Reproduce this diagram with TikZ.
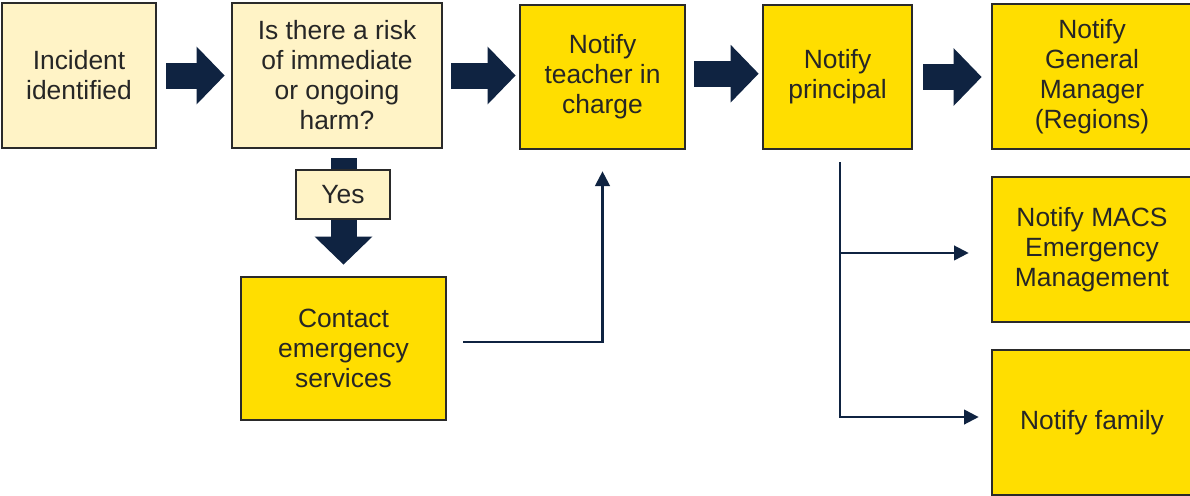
\documentclass[tikz,border=0pt]{standalone}
\usepackage{fontspec}
\setmainfont{Liberation Sans}
\usetikzlibrary{arrows.meta}
\definecolor{pale}{HTML}{FFF3C6}
\definecolor{gold}{HTML}{FFDE00}
\definecolor{navy}{HTML}{0F2341}
\definecolor{ink}{HTML}{262626}
\definecolor{edge}{HTML}{2A2A2A}
\begin{document}
\begin{tikzpicture}[x=0.75pt,y=-0.75pt,
  box/.style={draw=edge, line width=2pt, rectangle, inner sep=0pt, align=center,
    text=ink, font=\fontsize{19.8pt}{22.5pt}\selectfont},
  palebox/.style={box, fill=pale},
  goldbox/.style={box, fill=gold},
  blockarrow/.style={draw=navy, line width=19.5pt, -{Triangle[length=21pt,width=42pt]}},
  thinarrow/.style={draw=navy, line width=1.6pt, -{Triangle[length=11pt,width=11pt]}}]
\useasboundingbox (0,0) rectangle (1190,496);
\node[palebox, minimum width=115.5pt, minimum height=108.75pt] (b1) at (79,75.5) {Incident\\identified};
\node[palebox, minimum width=157.5pt, minimum height=108.75pt] (b2) at (337,75.5) {Is there a risk\\of immediate\\or ongoing\\harm?};
\node[goldbox, minimum width=123.75pt, minimum height=108pt] (b3) at (602.5,77) {Notify\\teacher in\\charge};
\node[goldbox, minimum width=111.75pt, minimum height=108pt] (b4) at (837.5,77) {Notify\\principal};
\node[goldbox, minimum width=150pt, minimum height=108.75pt] (b5) at (1092,76.5) {Notify\\General\\Manager\\(Regions)};
\node[goldbox, minimum width=150pt, minimum height=108.75pt] (b6) at (1092,249.5) {Notify MACS\\Emergency\\Management};
\node[goldbox, minimum width=150pt, minimum height=108.75pt] (b7) at (1092,422.5) {Notify family};
\node[goldbox, minimum width=153.75pt, minimum height=107.25pt] (b8) at (343.5,348.5) {Contact\\emergency\\services};
% block arrows
\draw[blockarrow, shorten <=6.75pt, shorten >=4.5pt] (b1.east) -- (b1.east -| b2.west);
\draw[blockarrow, shorten <=6pt, shorten >=2.25pt] (b2.east) -- (b2.east -| b3.west);
\draw[blockarrow, shorten <=6pt, shorten >=2.25pt] ([yshift=2.5pt]b3.east) -- ([yshift=2.5pt]b4.west);
\draw[blockarrow, shorten <=7.5pt, shorten >=6.75pt] (b4.east) -- (b4.east -| b5.west);
\coordinate (dx) at (343.5,0);
\draw[blockarrow, shorten <=6.75pt, shorten >=8.25pt] (dx |- b2.south) -- (b8.north);
\node[palebox, minimum width=70.5pt, minimum height=36.75pt] (yes) at (343,194.5) {Yes};
% thin connectors
\draw[thinarrow, shorten <=12pt, shorten >=15.75pt] ([yshift=4.9pt]b8.east) -| (b3.south);
\coordinate (px) at (840,0);
\draw[thinarrow, shorten <=9pt, shorten >=9pt] (px |- b4.south) -- ([yshift=4.1pt]px |- b7.west) -- ([yshift=4.1pt]b7.west);
\draw[thinarrow, shorten >=16.5pt] ([yshift=-2.6pt]px |- b6.west) -- ([yshift=-2.6pt]b6.west);
\end{tikzpicture}
\end{document}
